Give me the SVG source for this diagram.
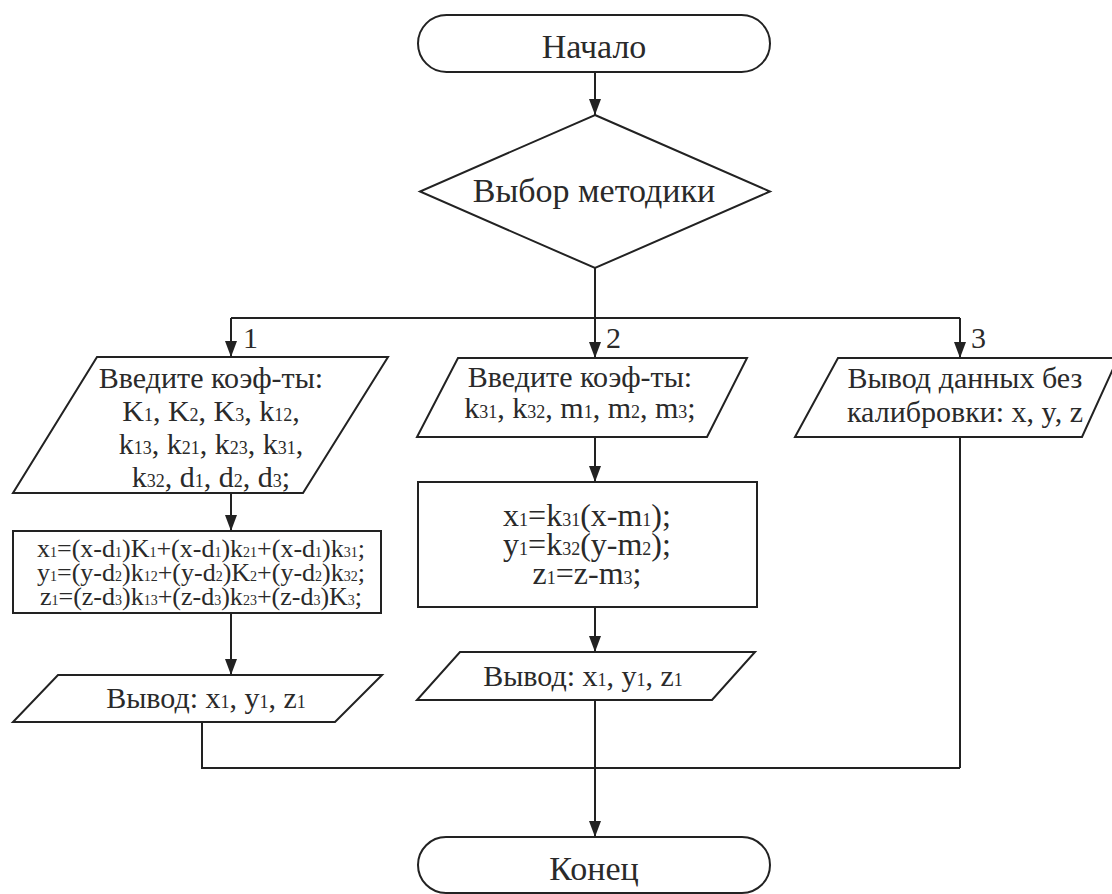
<svg xmlns="http://www.w3.org/2000/svg" width="1112" height="894" viewBox="0 0 1112 894">
<defs>
<style>
.sh{fill:#fff;stroke:#222;stroke-width:2}
.ln{fill:none;stroke:#222;stroke-width:2}
text{font-family:"Liberation Serif","Times New Roman",serif;fill:#2a2a2a;text-anchor:middle}
.big{font-size:34px}
.md{font-size:30px}
.lg{font-size:32px}
.sm{font-size:26px}
.lb{font-size:30px;text-anchor:start}
.s{font-size:18px}
.ss{font-size:14px}
</style>
<marker id="ah" viewBox="0 0 16 12" refX="16" refY="6" markerWidth="16" markerHeight="12" markerUnits="userSpaceOnUse" orient="auto">
<path d="M0,0 L16,6 L0,12 z" fill="#222"/>
</marker>
</defs>
<rect width="1112" height="894" fill="#fff"/>
<g id="connectors">
<path class="ln" d="M595,72 V115" marker-end="url(#ah)"/>
<path class="ln" d="M595,268 V318 M231,318 H960"/>
<path class="ln" d="M231,318 V357" marker-end="url(#ah)"/>
<path class="ln" d="M595,318 V358" marker-end="url(#ah)"/>
<path class="ln" d="M960,318 V358" marker-end="url(#ah)"/>
<path class="ln" d="M231,493 V531" marker-end="url(#ah)"/>
<path class="ln" d="M231,613 V675" marker-end="url(#ah)"/>
<path class="ln" d="M595,437 V482" marker-end="url(#ah)"/>
<path class="ln" d="M595,607 V652" marker-end="url(#ah)"/>
<path class="ln" d="M202,722 V768 H960 M960,437 V768"/>
<path class="ln" d="M595,700 V837" marker-end="url(#ah)"/>
<text class="lb" x="243" y="348">1</text>
<text class="lb" x="606" y="348">2</text>
<text class="lb" x="971" y="348">3</text>
</g>
<g id="start">
<rect class="sh" x="418" y="15" width="352" height="57" rx="28.5"/>
<text class="big" x="594" y="58">Начало</text>
</g>
<g id="choice">
<polygon class="sh" points="595,115 770,191.5 595,268 420,191.5"/>
<text class="big" x="594" y="202">Выбор методики</text>
</g>
<g id="input1">
<polygon class="sh" points="97,357 388,357 303,493 13,493"/>
<text class="md" x="211" y="388">Введите коэф-ты:</text>
<text class="md" x="211" y="421">K<tspan class="s">1</tspan>, K<tspan class="s">2</tspan>, K<tspan class="s">3</tspan>, k<tspan class="s">12</tspan>,</text>
<text class="md" x="211" y="454">k<tspan class="s">13</tspan>, k<tspan class="s">21</tspan>, k<tspan class="s">23</tspan>, k<tspan class="s">31</tspan>,</text>
<text class="md" x="211" y="487">k<tspan class="s">32</tspan>, d<tspan class="s">1</tspan>, d<tspan class="s">2</tspan>, d<tspan class="s">3</tspan>;</text>
</g>
<g id="calc1">
<rect class="sh" x="13" y="531" width="368" height="82"/>
<text class="sm" x="201" y="557">x<tspan class="ss">1</tspan>=(x-d<tspan class="ss">1</tspan>)K<tspan class="ss">1</tspan>+(x-d<tspan class="ss">1</tspan>)k<tspan class="ss">21</tspan>+(x-d<tspan class="ss">1</tspan>)k<tspan class="ss">31</tspan>;</text>
<text class="sm" x="201" y="581">y<tspan class="ss">1</tspan>=(y-d<tspan class="ss">2</tspan>)k<tspan class="ss">12</tspan>+(y-d<tspan class="ss">2</tspan>)K<tspan class="ss">2</tspan>+(y-d<tspan class="ss">2</tspan>)k<tspan class="ss">32</tspan>;</text>
<text class="sm" x="201" y="605">z<tspan class="ss">1</tspan>=(z-d<tspan class="ss">3</tspan>)k<tspan class="ss">13</tspan>+(z-d<tspan class="ss">3</tspan>)k<tspan class="ss">23</tspan>+(z-d<tspan class="ss">3</tspan>)K<tspan class="ss">3</tspan>;</text>
</g>
<g id="output1">
<polygon class="sh" points="58,675 382,675 335,722 13,722"/>
<text class="md" x="206" y="708">Вывод: x<tspan class="s">1</tspan>, y<tspan class="s">1</tspan>, z<tspan class="s">1</tspan></text>
</g>
<g id="input2">
<polygon class="sh" points="458,358 747,358 707,437 417,437"/>
<text class="md" x="580" y="387">Введите коэф-ты:</text>
<text class="md" x="580" y="418">k<tspan class="s">31</tspan>, k<tspan class="s">32</tspan>, m<tspan class="s">1</tspan>, m<tspan class="s">2</tspan>, m<tspan class="s">3</tspan>;</text>
</g>
<g id="calc2">
<rect class="sh" x="418" y="482" width="339" height="125"/>
<text class="lg" x="587" y="526">x<tspan class="s">1</tspan>=k<tspan class="s">31</tspan>(x-m<tspan class="s">1</tspan>);</text>
<text class="lg" x="587" y="555">y<tspan class="s">1</tspan>=k<tspan class="s">32</tspan>(y-m<tspan class="s">2</tspan>);</text>
<text class="lg" x="587" y="584">z<tspan class="s">1</tspan>=z-m<tspan class="s">3</tspan>;</text>
</g>
<g id="output2">
<polygon class="sh" points="460,652 755,652 712,700 417,700"/>
<text class="md" x="583" y="686">Вывод: x<tspan class="s">1</tspan>, y<tspan class="s">1</tspan>, z<tspan class="s">1</tspan></text>
</g>
<g id="output3">
<polygon class="sh" points="838,358 1118,358 1082,437 795,437"/>
<text class="md" x="965" y="388">Вывод данных без</text>
<text class="md" x="965" y="422">калибровки: x, y, z</text>
</g>
<g id="end">
<rect class="sh" x="418" y="837" width="352" height="56" rx="28"/>
<text class="big" x="594" y="880">Конец</text>
</g>
</svg>
